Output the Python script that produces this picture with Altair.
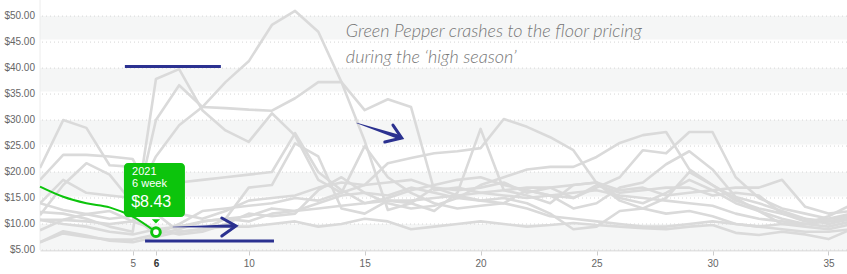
import altair as alt
import pandas as pd

weeks = list(range(1, 37))

# gray series (price per week)
s1 = [20.8, 30.0, 28.5, 21.3, 21.0, 12.0, 8.5, 9.0, 11.0, 17.0, 17.5, 25.5, 23.0, 13.0, 12.0, 14.5, 14.0, 12.5, 16.0, 28.3, 16.5, 15.5, 14.0, 17.5, 18.0, 15.0, 14.0, 16.0, 18.5, 16.5, 14.0, 12.5, 11.0, 10.0, 9.5, 10.5]
s2 = [11.7, 17.5, 21.7, 19.5, 14.0, 23.0, 29.0, 32.5, 37.3, 41.3, 48.3, 51.0, 47.0, 37.3, 26.0, 12.7, 14.0, 17.0, 15.5, 14.5, 15.0, 14.0, 12.0, 9.0, 9.5, 12.5, 13.0, 15.0, 20.0, 17.5, 15.0, 12.5, 10.0, 9.5, 9.0, 10.0]
s3 = [12.3, 12.0, 11.0, 9.5, 8.5, 37.9, 39.8, 31.9, 28.0, 25.8, 31.3, 27.0, 18.5, 16.0, 25.0, 19.0, 16.0, 14.0, 13.0, 13.5, 14.0, 13.0, 11.5, 11.0, 10.5, 10.0, 9.5, 9.5, 10.0, 10.5, 10.0, 9.5, 9.0, 8.5, 8.5, 9.0]
s4 = [8.8, 10.8, 10.5, 10.0, 10.5, 30.0, 36.7, 32.5, 32.3, 32.0, 31.8, 34.2, 37.3, 37.3, 31.9, 34.0, 32.5, 16.5, 17.0, 16.0, 16.5, 17.0, 17.0, 15.0, 17.5, 16.0, 16.5, 17.0, 17.0, 15.5, 16.0, 15.5, 12.0, 10.5, 11.0, 12.0]
s5 = [18.5, 23.3, 23.3, 23.0, 22.5, 14.0, 12.0, 11.0, 12.5, 14.5, 15.0, 15.5, 17.0, 18.0, 17.5, 21.7, 22.7, 23.6, 24.0, 24.6, 30.2, 28.7, 26.7, 24.2, 17.9, 14.5, 13.0, 12.0, 12.5, 11.5, 10.0, 9.5, 10.0, 10.0, 10.5, 11.0]
s6 = [6.5, 8.2, 7.5, 7.0, 7.0, 8.0, 9.0, 10.5, 11.0, 11.5, 13.0, 12.5, 14.0, 15.5, 16.0, 15.5, 17.0, 16.0, 15.0, 17.5, 19.0, 20.5, 21.0, 21.0, 22.9, 25.6, 27.1, 27.7, 20.5, 17.5, 14.5, 13.0, 12.0, 11.0, 10.0, 11.0]
s7 = [14.0, 18.5, 16.0, 15.5, 15.0, 17.5, 18.0, 18.5, 19.0, 19.5, 20.0, 27.5, 20.0, 16.5, 14.0, 15.0, 16.5, 17.5, 18.5, 19.0, 17.5, 16.5, 15.5, 15.0, 17.0, 19.0, 24.2, 23.6, 27.7, 27.7, 19.0, 15.0, 13.0, 12.0, 11.0, 11.5]
s8 = [10.8, 10.8, 11.9, 12.5, 10.5, 9.0, 8.0, 8.5, 10.0, 12.0, 11.5, 12.0, 16.5, 19.0, 16.0, 14.0, 13.0, 13.5, 15.0, 14.5, 14.0, 16.5, 15.5, 13.0, 14.0, 17.0, 18.0, 21.5, 24.0, 20.5, 15.2, 14.0, 12.5, 11.0, 10.5, 11.5]
s9 = [14.0, 12.7, 11.9, 11.0, 11.5, 8.0, 10.0, 12.5, 13.0, 13.5, 14.0, 15.0, 14.5, 16.0, 17.5, 18.0, 18.5, 17.0, 16.5, 17.0, 18.0, 16.0, 17.0, 17.5, 18.0, 16.5, 17.0, 15.5, 16.0, 16.5, 17.0, 17.0, 18.5, 13.3, 12.0, 12.5]
s10 = [6.5, 8.6, 7.8, 6.8, 6.5, 7.5, 8.5, 9.0, 9.5, 9.5, 10.0, 10.5, 9.5, 10.0, 11.0, 10.5, 9.0, 9.5, 10.0, 10.5, 10.0, 9.5, 9.8, 10.2, 9.8, 9.5, 9.2, 9.0, 9.5, 9.8, 8.3, 7.9, 8.5, 8.0, 7.1, 9.0]
s11 = [10.8, 10.0, 9.5, 8.5, 8.0, 9.0, 9.5, 10.5, 11.0, 10.5, 12.0, 12.5, 13.0, 13.5, 14.0, 14.5, 14.5, 15.0, 15.5, 16.0, 15.5, 15.0, 15.5, 16.0, 16.5, 15.5, 15.0, 14.5, 14.0, 13.5, 12.0, 11.0, 10.5, 10.0, 11.5, 13.7]
gray_series = [s1, s2, s3, s4, s5, s6, s7, s8, s9, s10, s11]

green_weeks = [1, 2, 3, 4, 5, 6]
green_vals = [17.2, 15.25, 14.0, 13.2, 11.4, 8.43]

band_lo = [45.5, 35.5, 25.3, 15.3, 5.0]
band_hi = [50.0, 40.0, 30.0, 20.0, 10.0]

y_ticks = [5, 10, 15, 20, 25, 30, 35, 40, 45, 50]
x_ticks = [5, 6, 10, 15, 20, 25, 30, 35]

GREEN = "#0cc40c"
NAVY = "#2b3190"
XD = [1, 35.8]
YD = [5, 53.1]

rows = []
for i, s in enumerate(gray_series):
    for w, v in zip(weeks, s):
        rows.append({"series": f"s{i+1}", "week": w, "price": v})
gray_df = pd.DataFrame(rows)
green_df = pd.DataFrame({"week": green_weeks, "price": green_vals})
bands_df = pd.DataFrame({"lo": band_lo, "hi": band_hi})
ytick_df = pd.DataFrame({"v": y_ticks})

xs = alt.Scale(domain=XD, nice=False, zero=False)
ys = alt.Scale(domain=YD, nice=False, zero=False)

base_axis_x = alt.Axis(
    values=x_ticks, labelOverlap=False, grid=False, domainColor="#e3e3e3", domainWidth=2,
    tickColor="#cccccc", tickSize=5, labelColor=alt.condition("datum.value == 6", alt.value("#333333"), alt.value("#666666")),
    labelFontWeight=alt.condition("datum.value == 6", alt.value("bold"), alt.value("normal")),
    labelFont="Liberation Sans", labelFontSize=10, labelPadding=3, title=None,
)

bands = alt.Chart(bands_df).mark_rect(color="#f5f6f6").encode(
    y=alt.Y("lo:Q", scale=ys, axis=None), y2="hi:Q",
)

# dotted horizontal grid lines
grid = alt.Chart(ytick_df).mark_rule(color="#d6d6d6", strokeWidth=1, strokeDash=[1, 3]).encode(
    y=alt.Y("v:Q", scale=ys, axis=None)
)

# y-axis tick labels
ylabels = alt.Chart(ytick_df).transform_calculate(
    lab="format(datum.v, '$.2f')"
).mark_text(align="right", baseline="middle", dx=-5, color="#666666", font="Liberation Sans", fontSize=10).encode(
    x=alt.value(0), y=alt.Y("v:Q", scale=ys, axis=None), text="lab:N"
)

ydomain_line = alt.Chart(pd.DataFrame({"x": [1]})).mark_rule(color="#ececec", strokeWidth=1).encode(
    x=alt.X("x:Q", scale=xs, axis=base_axis_x)
)

gray = alt.Chart(gray_df).mark_line(color="#dadada", strokeWidth=2.6, clip=True, strokeJoin="round").encode(
    x=alt.X("week:Q", scale=xs, axis=base_axis_x),
    y=alt.Y("price:Q", scale=ys, axis=None),
    detail="series:N",
)

green = alt.Chart(green_df).mark_line(color=GREEN, strokeWidth=2, interpolate="monotone").encode(
    x=alt.X("week:Q", scale=xs), y=alt.Y("price:Q", scale=ys)
)

# navy annotation lines
hl_df = pd.DataFrame({"x": [4.66, 5.53], "x2": [8.8, 11.09], "y": [40.3, 6.73]})
hlines = alt.Chart(hl_df).mark_rule(color=NAVY, strokeWidth=3).encode(
    x=alt.X("x:Q", scale=xs), x2="x2:Q", y=alt.Y("y:Q", scale=ys)
)

shaft_df = pd.DataFrame({
    "arrow": ["a", "a", "b", "b"],
    "x": [6.73, 9.35, 14.66, 16.5],
    "y": [9.42, 9.62, 29.42, 26.7],
    "w": [0.5, 3.5, 0.5, 4.5],
})
shafts = alt.Chart(shaft_df).mark_trail(color=NAVY).encode(
    x=alt.X("x:Q", scale=xs), y=alt.Y("y:Q", scale=ys), detail="arrow:N",
    size=alt.Size("w:Q", scale=alt.Scale(domain=[0, 4.5], range=[0, 4.5]), legend=None),
)

head_df = pd.DataFrame({
    "arrow": ["a", "a", "a", "b", "b", "b"],
    "ord": [0, 1, 2, 0, 1, 2],
    "x": [8.84, 9.45, 8.84, 16.22, 16.60, 15.87],
    "y": [11.15, 9.62, 7.69, 29.04, 26.54, 25.77],
})
heads = alt.Chart(head_df).mark_line(color=NAVY, strokeWidth=3, strokeJoin="miter", strokeCap="round").encode(
    x=alt.X("x:Q", scale=xs), y=alt.Y("y:Q", scale=ys), detail="arrow:N", order="ord:Q"
)

# tooltip box
tip_df = pd.DataFrame({"x": [4.62], "x2": [7.25], "y": [21.73], "y2": [11.35]})
tipbox = alt.Chart(tip_df).mark_rect(color=GREEN, cornerRadius=4).encode(
    x=alt.X("x:Q", scale=xs), x2="x2:Q", y=alt.Y("y:Q", scale=ys), y2="y2:Q"
)
ptr_df = pd.DataFrame({"x": [6.0], "y": [10.9]})
pointer = alt.Chart(ptr_df).mark_point(shape="M-1,0L1,0L0,1Z", filled=True, color=GREEN, opacity=1, size=70).encode(
    x=alt.X("x:Q", scale=xs), y=alt.Y("y:Q", scale=ys)
)

tip_text_df = pd.DataFrame({
    "x": [4.97, 4.97, 4.93],
    "y": [19.42, 17.12, 13.27],
    "t": ["2021", "6 week", "$8.43"],
    "s": [11, 11, 16],
})
tiptext = alt.Chart(tip_text_df).mark_text(color="white", align="left", baseline="alphabetic", font="Liberation Sans").encode(
    x=alt.X("x:Q", scale=xs), y=alt.Y("y:Q", scale=ys), text="t:N",
    size=alt.Size("s:Q", scale=None, legend=None),
)

marker = alt.Chart(pd.DataFrame({"week": [6], "price": [8.43]})).mark_point(
    shape="circle", filled=True, fill="white", stroke=GREEN, strokeWidth=3, size=75, opacity=1
).encode(x=alt.X("week:Q", scale=xs), y=alt.Y("price:Q", scale=ys))

note_df = pd.DataFrame({
    "x": [14.19, 14.19], "y": [45.96, 40.96],
    "t": ["Green Pepper crashes to the floor pricing", "during the \u2018high season\u2019"],
})
note = alt.Chart(note_df).mark_text(
    color="#777777", align="left", baseline="alphabetic", font="Lato", fontStyle="italic",
    fontSize=18, fontWeight=300,
).encode(x=alt.X("x:Q", scale=xs), y=alt.Y("y:Q", scale=ys), text="t:N")

chart = alt.layer(
    bands, grid, ylabels, ydomain_line, gray, green, hlines, shafts, heads, tipbox, pointer, tiptext, marker, note
).properties(
    width=807, height=250,
    padding={"left": 40, "top": 0, "right": 0, "bottom": 24},
    autosize=alt.AutoSizeParams(type="none"),
    background="white",
).configure_view(stroke=None)

chart.save("out.html", embed_options={"renderer": "svg", "actions": False})
